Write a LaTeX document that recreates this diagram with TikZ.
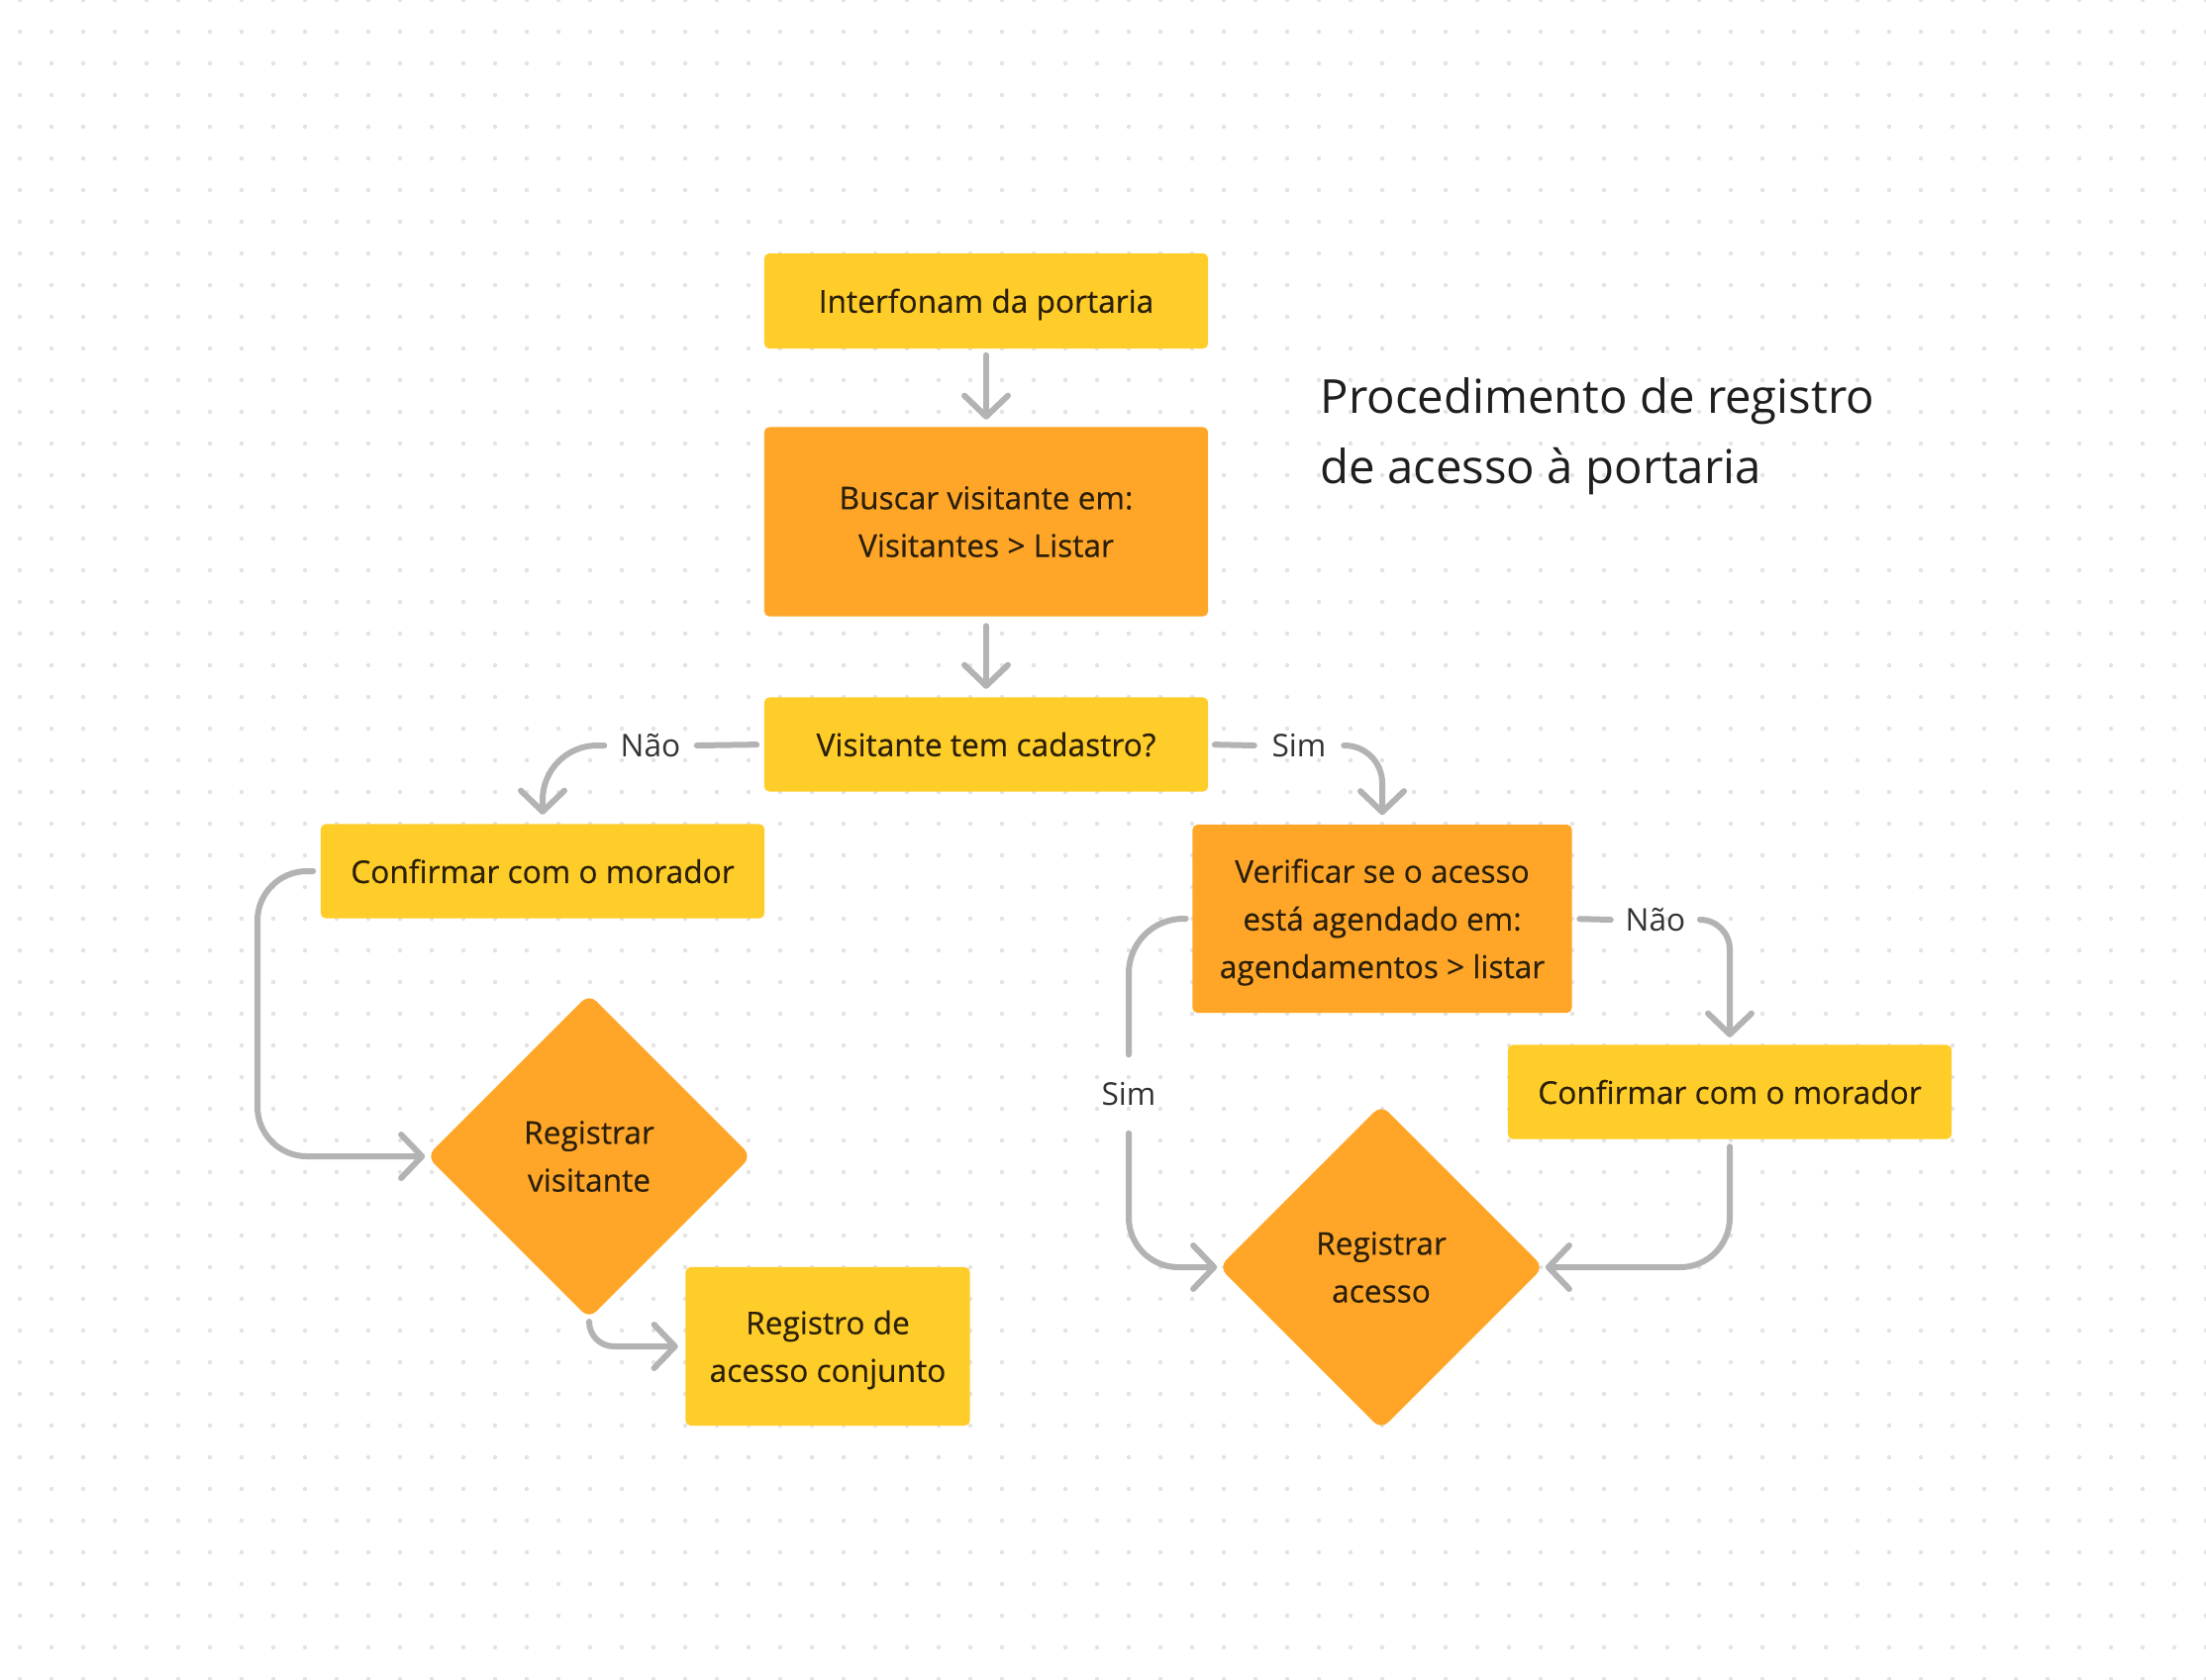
\documentclass[tikz,border=0pt]{standalone}
\usepackage{fontspec}
\setmainfont{Open Sans}
\newfontfamily\medfont{Open Sans}[FakeBold=0.35]
\usetikzlibrary{shapes.geometric,arrows.meta}
\definecolor{yel}{HTML}{FFCD29}
\definecolor{ora}{HTML}{FFA629}
\definecolor{linegray}{HTML}{B3B3B3}
\definecolor{dotgray}{HTML}{E3E3E3}
\definecolor{boxtxt}{HTML}{2B1F08}
\definecolor{lbltxt}{HTML}{333333}
\definecolor{titletxt}{HTML}{1E1E1E}
\begin{document}
\begin{tikzpicture}[x=0.01cm,y=-0.01cm,
  tx/.style={align=center, text=boxtxt, font=\medfont\fontsize{9}{13.7}\selectfont,
    inner sep=0pt},
  txd/.style={tx, yshift=-0.035cm},
  box/.style={rectangle, rounded corners=0.05cm, inner sep=0pt},
  ybox/.style={box, fill=yel},
  obox/.style={box, fill=ora},
  dia/.style={diamond, fill=ora, rounded corners=0.1cm, inner sep=0pt,
    minimum width=3.28cm, minimum height=3.28cm},
  lbl/.style={inner sep=0pt, text=lbltxt, font=\fontsize{9}{13.7}\selectfont},
  link/.style={draw=linegray, line width=0.06cm, line cap=round, line join=round},
  arr/.style={link, -{Straight Barb[length=6pt,width=12.5pt,round]}},
]
\useasboundingbox (0,0) rectangle (2228,1696);
\fill[white] (0,0) rectangle (2228,1696);
\foreach \i in {0,...,69}{\foreach \j in {0,...,53}{\fill[dotgray] (20+32*\i,32*\j) circle[radius=0.022cm];}}

% title
\node[anchor=west, align=left, text=titletxt, font=\fontsize{13.45}{20.2}\selectfont, inner sep=0pt]
  (title) at (1333,441) {Procedimento de registro\\de acesso à portaria};

% boxes
\node[ybox, minimum width=4.48cm, minimum height=0.96cm,
  label={[txd]center:{Interfonam da portaria}}] (n1) at (996,304) {};
\node[obox, minimum width=4.48cm, minimum height=1.91cm,
  label={[tx]center:{Buscar visitante em:\\Visitantes > Listar}}] (n2) at (996,527) {};
\node[ybox, minimum width=4.48cm, minimum height=0.95cm,
  label={[tx]center:{Visitante tem cadastro?}}] (n3) at (996,752) {};
\node[ybox, minimum width=4.48cm, minimum height=0.95cm,
  label={[tx]center:{Confirmar com o morador}}] (n4) at (548,880) {};
\node[obox, minimum width=3.83cm, minimum height=1.90cm,
  label={[txd]center:{Verificar se o acesso\\está agendado em:\\agendamentos > listar}}] (n5) at (1396,928) {};
\node[ybox, minimum width=4.48cm, minimum height=0.95cm,
  label={[tx]center:{Confirmar com o morador}}] (n6) at (1747,1103) {};
\node[ybox, minimum width=2.87cm, minimum height=1.60cm,
  label={[txd]center:{Registro de\\acesso conjunto}}] (n7) at (836,1360) {};
\node[dia, label={[tx]center:{Registrar\\visitante}}] (d1) at (595,1168) {};
\node[dia, label={[tx]center:{Registrar\\acesso}}] (d2) at (1395,1280) {};

% labels
\node[lbl, minimum width=0.92cm] (naoL) at (657,753) {Não};
\node[lbl, minimum width=0.89cm] (simL) at (1312,753) {Sim};
\node[lbl, minimum width=0.89cm] (naoR) at (1672,929) {Não};
\node[lbl, minimum height=0.78cm] (simR) at (1140,1105) {Sim};
\coordinate (c1) at (260,1000);

% connectors
\draw[arr, shorten <=0.06cm, shorten >=0.07cm] (n1) -- (n2);
\draw[arr, shorten <=0.09cm, shorten >=0.08cm] (n2) -- (n3);
\draw[link, shorten <=0.07cm] (n3.west) -- (naoL.east);
\draw[arr, rounded corners=0.55cm, shorten >=0.09cm] (naoL.west) -| (n4.north);
\draw[link, shorten <=0.06cm] (n3.east) -- (simL.west);
\draw[arr, rounded corners=0.38cm, shorten >=0.09cm] (simL.east) -| (n5.north);
\draw[link, shorten <=0.07cm] (n5.east) -- (naoR.west);
\draw[arr, rounded corners=0.3cm, shorten >=0.07cm] (naoR.east) -| (n6.north);
\draw[link, rounded corners=0.55cm, shorten <=0.06cm] (n5.west) -| (simR.north);
\draw[arr, rounded corners=0.5cm, shorten >=0.01cm] (simR.south) |- (d2.west);
\draw[arr, rounded corners=0.5cm, shorten <=0.07cm, shorten >=0.01cm] (n6.south) |- (d2.east);
\draw[arr, rounded corners=0.5cm, shorten <=0.07cm, shorten >=0.01cm] (n4.west) -| (c1) |- (d1.west);
\draw[arr, rounded corners=0.25cm, shorten <=0.03cm, shorten >=0.07cm] (d1.south) |- (n7.west);
\end{tikzpicture}
\end{document}
